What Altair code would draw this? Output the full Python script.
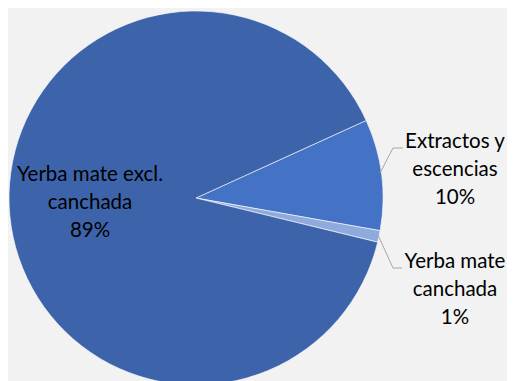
import math
import altair as alt
import pandas as pd

# ---- data ----
categories = ["Extractos y escencias", "Yerba mate canchada", "Yerba mate excl. canchada"]
wrapped = ["Extractos y\nescencias", "Yerba mate\ncanchada", "Yerba mate excl.\ncanchada"]
values = [9.6, 1.0, 89.4]
colors = ["#4472C4", "#8FAADC", "#3D64AA"]

# ---- layout constants ----
START = math.radians(65.5)
CX, CY, R = 188, 190, 187
label_x = [447, 447, 82]
label_y = [134, 254, 167]
leader_x = [372, 385, 370, 385]
leader_y = [165, 140, 227, 260]
leader_x2 = [385, 395, 385, 394]
leader_y2 = [140, 140, 260, 260]

total = sum(values)
pct = [f"{round(v / total * 100)}%" for v in values]
df = pd.DataFrame({
    "cat": categories,
    "value": values,
    "ord": list(range(len(values))),
    "label": [w + "\n" + p for w, p in zip(wrapped, pct)],
    "lx": label_x,
    "ly": label_y,
})
lead = pd.DataFrame({"x": leader_x, "y": leader_y, "x2": leader_x2, "y2": leader_y2})

arc = alt.Chart(df).mark_arc(radius=R, stroke="white", strokeWidth=0.6).encode(
    theta=alt.Theta("value:Q", stack=True,
                    scale=alt.Scale(range=[START, START + 2 * math.pi])),
    color=alt.Color("cat:N", scale=alt.Scale(domain=categories, range=colors), legend=None),
    order=alt.Order("ord:Q"),
    x=alt.value(CX),
    y=alt.value(CY),
)

text = alt.Chart(df).mark_text(
    font="Lato", fontSize=20.5, lineBreak="\n", lineHeight=28,
    align="center", baseline="middle", color="#000000",
).encode(
    x=alt.X("lx:Q", scale=None),
    y=alt.Y("ly:Q", scale=None),
    text="label:N",
)

rules = alt.Chart(lead).mark_rule(color="#A6A6A6", strokeWidth=1).encode(
    x=alt.X("x:Q", scale=None),
    y=alt.Y("y:Q", scale=None),
    x2="x2:Q",
    y2="y2:Q",
)

chart = alt.layer(arc, rules, text).properties(
    width=499, height=373,
    padding=0,
    autosize=alt.AutoSizeParams(type="none"),
    background="#F2F2F2",
).configure_view(stroke=None)

chart.save("out.html", embed_options={"renderer": "svg", "actions": False})
